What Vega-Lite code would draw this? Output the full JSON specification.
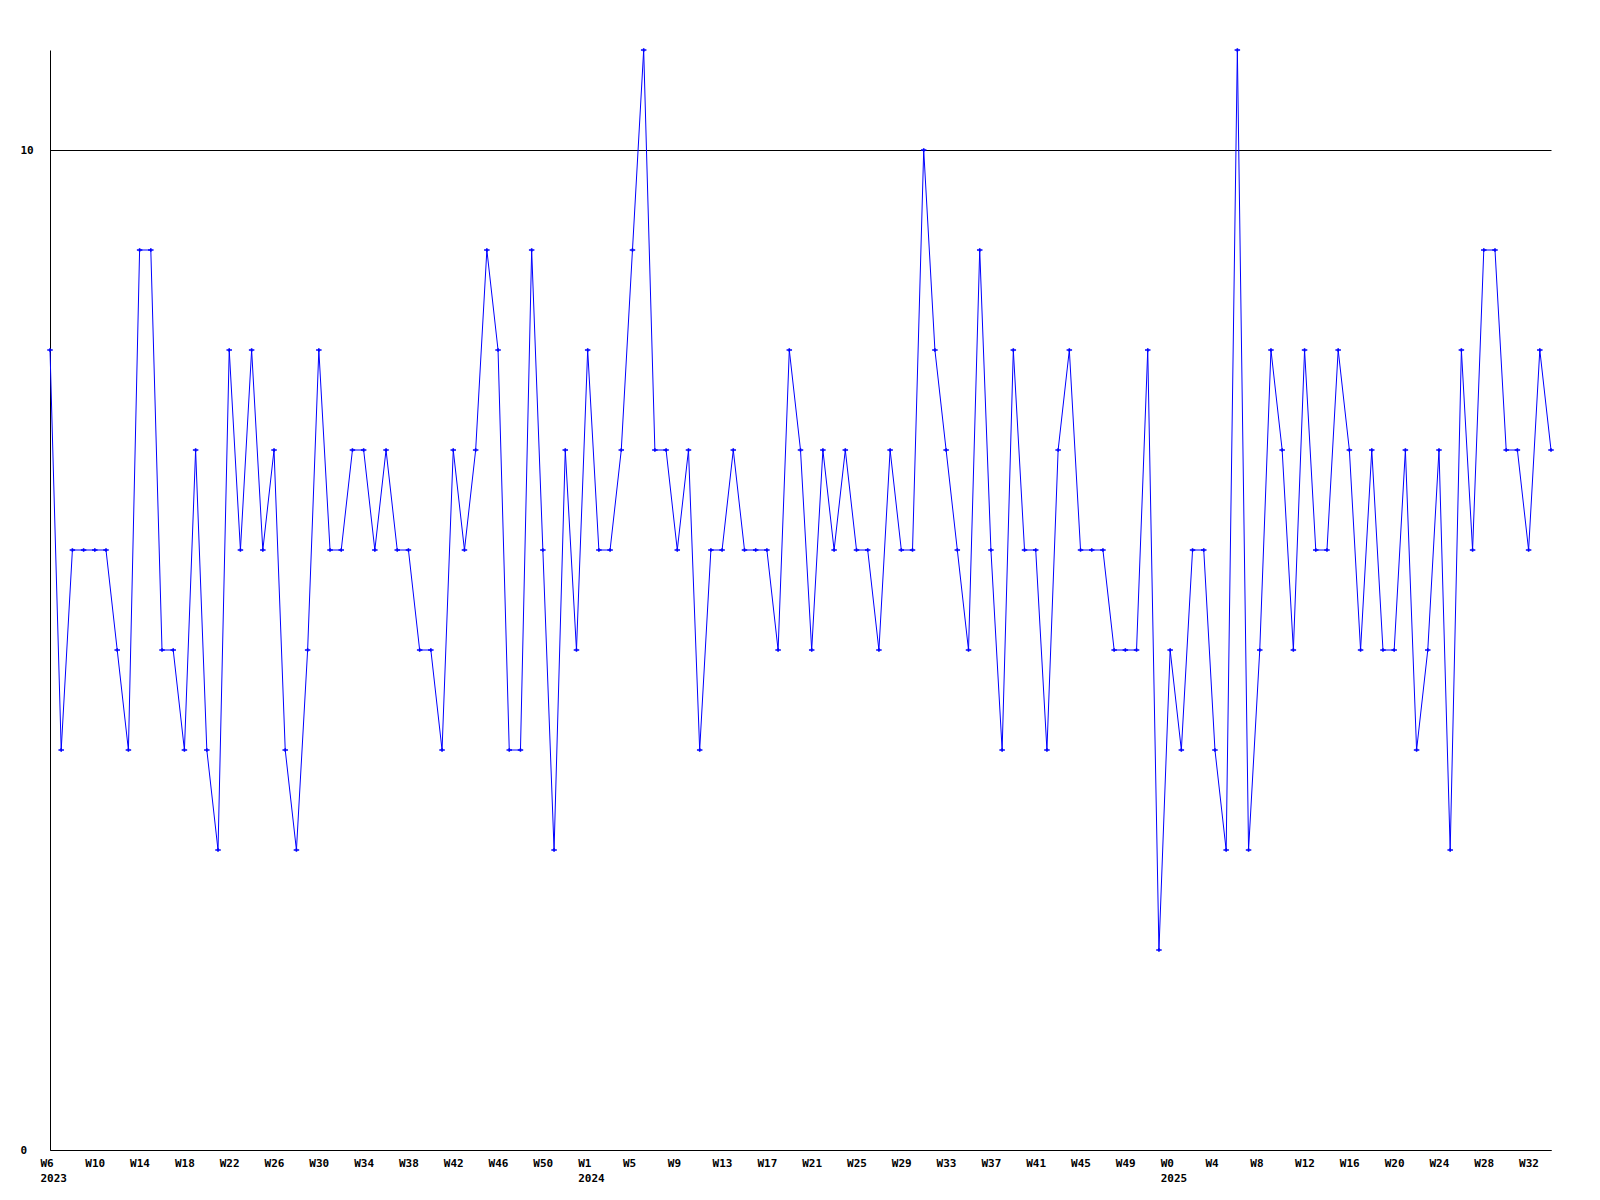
{
  "$schema": "https://vega.github.io/schema/vega-lite/v6.json",
  "width": 1501,
  "height": 1100,
  "autosize": "none",
  "padding": {"left": 50, "top": 50, "right": 49, "bottom": 50},
  "background": "white",
  "config": {
    "view": {"stroke": null},
    "axis": {
      "labelFont": "DejaVu Sans Mono",
      "labelFontWeight": "bold",
      "labelFontSize": 11,
      "labelColor": "black",
      "domainColor": "black",
      "domainWidth": 1,
      "ticks": false,
      "title": null
    }
  },
  "data": {
    "values": [
      {"i":0,"v":8},{"i":1,"v":4},{"i":2,"v":6},{"i":3,"v":6},{"i":4,"v":6},{"i":5,"v":6},{"i":6,"v":5},{"i":7,"v":4},{"i":8,"v":9},{"i":9,"v":9},
      {"i":10,"v":5},{"i":11,"v":5},{"i":12,"v":4},{"i":13,"v":7},{"i":14,"v":4},{"i":15,"v":3},{"i":16,"v":8},{"i":17,"v":6},{"i":18,"v":8},{"i":19,"v":6},
      {"i":20,"v":7},{"i":21,"v":4},{"i":22,"v":3},{"i":23,"v":5},{"i":24,"v":8},{"i":25,"v":6},{"i":26,"v":6},{"i":27,"v":7},{"i":28,"v":7},{"i":29,"v":6},
      {"i":30,"v":7},{"i":31,"v":6},{"i":32,"v":6},{"i":33,"v":5},{"i":34,"v":5},{"i":35,"v":4},{"i":36,"v":7},{"i":37,"v":6},{"i":38,"v":7},{"i":39,"v":9},
      {"i":40,"v":8},{"i":41,"v":4},{"i":42,"v":4},{"i":43,"v":9},{"i":44,"v":6},{"i":45,"v":3},{"i":46,"v":7},{"i":47,"v":5},{"i":48,"v":8},{"i":49,"v":6},
      {"i":50,"v":6},{"i":51,"v":7},{"i":52,"v":9},{"i":53,"v":11},{"i":54,"v":7},{"i":55,"v":7},{"i":56,"v":6},{"i":57,"v":7},{"i":58,"v":4},{"i":59,"v":6},
      {"i":60,"v":6},{"i":61,"v":7},{"i":62,"v":6},{"i":63,"v":6},{"i":64,"v":6},{"i":65,"v":5},{"i":66,"v":8},{"i":67,"v":7},{"i":68,"v":5},{"i":69,"v":7},
      {"i":70,"v":6},{"i":71,"v":7},{"i":72,"v":6},{"i":73,"v":6},{"i":74,"v":5},{"i":75,"v":7},{"i":76,"v":6},{"i":77,"v":6},{"i":78,"v":10},{"i":79,"v":8},
      {"i":80,"v":7},{"i":81,"v":6},{"i":82,"v":5},{"i":83,"v":9},{"i":84,"v":6},{"i":85,"v":4},{"i":86,"v":8},{"i":87,"v":6},{"i":88,"v":6},{"i":89,"v":4},
      {"i":90,"v":7},{"i":91,"v":8},{"i":92,"v":6},{"i":93,"v":6},{"i":94,"v":6},{"i":95,"v":5},{"i":96,"v":5},{"i":97,"v":5},{"i":98,"v":8},{"i":99,"v":2},
      {"i":100,"v":5},{"i":101,"v":4},{"i":102,"v":6},{"i":103,"v":6},{"i":104,"v":4},{"i":105,"v":3},{"i":106,"v":11},{"i":107,"v":3},{"i":108,"v":5},{"i":109,"v":8},
      {"i":110,"v":7},{"i":111,"v":5},{"i":112,"v":8},{"i":113,"v":6},{"i":114,"v":6},{"i":115,"v":8},{"i":116,"v":7},{"i":117,"v":5},{"i":118,"v":7},{"i":119,"v":5},
      {"i":120,"v":5},{"i":121,"v":7},{"i":122,"v":4},{"i":123,"v":5},{"i":124,"v":7},{"i":125,"v":3},{"i":126,"v":8},{"i":127,"v":6},{"i":128,"v":9},{"i":129,"v":9},
      {"i":130,"v":7},{"i":131,"v":7},{"i":132,"v":6},{"i":133,"v":8},{"i":134,"v":7}
    ]
  },
  "encoding": {
    "x": {
      "field": "i",
      "type": "quantitative",
      "scale": {"domain": [0, 134], "nice": false, "zero": false},
      "axis": {
        "values": [0,4,8,12,16,20,24,28,32,36,40,44,48,52,56,60,64,68,72,76,80,84,88,92,96,100,104,108,112,116,120,124,128,132],
        "labelExpr": "datum.value == 0 ? ['W6','2023'] : datum.value == 48 ? ['W1','2024'] : datum.value == 100 ? ['W0','2025'] : ['W6','W10','W14','W18','W22','W26','W30','W34','W38','W42','W46','W50','W1','W5','W9','W13','W17','W21','W25','W29','W33','W37','W41','W45','W49','W0','W4','W8','W12','W16','W20','W24','W28','W32'][datum.value/4]",
        "labelAlign": "left",
        "labelOffset": -10,
        "labelBaseline": "top",
        "labelPadding": 7,
        "labelLineHeight": 15,
        "labelOverlap": false,
        "labelFlush": false,
        "grid": false
      }
    },
    "y": {
      "field": "v",
      "type": "quantitative",
      "scale": {"domain": [0, 11], "nice": false},
      "axis": {
        "values": [0, 10],
        "grid": true,
        "gridColor": "black",
        "gridOpacity": 1,
        "gridWidth": 1,
        "labelAlign": "left",
        "labelPadding": 30,
        "labelBaseline": "middle"
      }
    }
  },
  "layer": [
    {"mark": {"type": "line", "color": "#0000ff", "strokeWidth": 1}},
    {"mark": {"type": "point", "shape": "M-1,0H1M0,-0.6V0.6", "size": 30, "filled": false, "stroke": "#0000ff", "strokeWidth": 1.6, "opacity": 1}}
  ]
}
